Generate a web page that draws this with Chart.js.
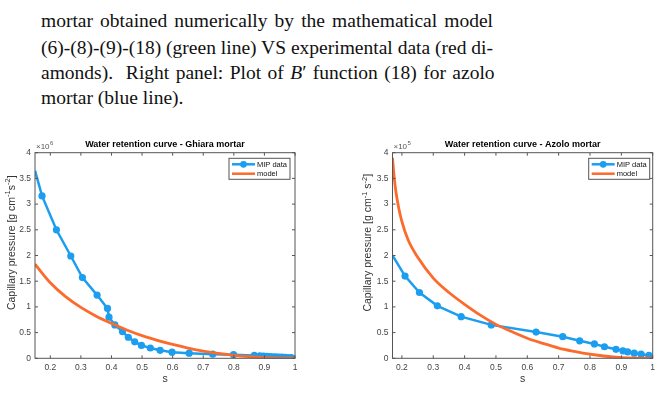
<!DOCTYPE html>
<html><head><meta charset="utf-8">
<script src="https://cdn.jsdelivr.net/npm/chart.js@4.4.1/dist/chart.umd.min.js"></script>
<style>
html,body{margin:0;padding:0;background:#fff;width:661px;height:411px;overflow:hidden;position:relative}
.cap{position:absolute;left:41px;font-family:"Liberation Serif","DejaVu Serif",serif;font-size:20px;color:#111;line-height:26px;white-space:nowrap}
canvas{position:absolute}
</style></head><body>
<div class="cap j" style="top:8px">mortar obtained numerically by the mathematical model</div>
<div class="cap j" style="top:35px">(6)-(8)-(9)-(18) (green line) VS experimental data (red di-</div>
<div class="cap j" style="top:60px">amonds). &nbsp;Right panel: Plot of <i>B</i>′ function (18) for azolo</div>
<div class="cap" style="top:85px">mortar (blue line).</div>
<canvas id="c1" width="330" height="255" style="left:0;top:135px"></canvas>
<canvas id="c2" width="331" height="255" style="left:330px;top:135px"></canvas>
<script>
// ---- data ----
const xTicks = [0.2,0.3,0.4,0.5,0.6,0.7,0.8,0.9,1];
const xTickLabels = ['0.2','0.3','0.4','0.5','0.6','0.7','0.8','0.9','1'];
const yTicks = [0,0.5,1,1.5,2,2.5,3,3.5,4];
const yTickLabels = ['0','0.5','1','1.5','2','2.5','3','3.5','4'];

// Ghiara mortar (values in units of 1e6)
const ghiaraS = [0.15,0.173,0.22,0.267,0.305,0.353,0.387,0.392,0.411,0.436,0.455,0.476,0.498,0.527,0.559,0.598,0.654,0.731,0.799,0.867,0.885,0.897,0.908,0.918,0.928,0.938,0.948,0.958,0.968,0.978,0.988];
const ghiaraP = [3.65,3.16,2.50,1.99,1.57,1.23,0.97,0.80,0.65,0.52,0.41,0.32,0.25,0.20,0.155,0.12,0.10,0.08,0.07,0.055,0.05,0.045,0.04,0.035,0.03,0.027,0.024,0.021,0.018,0.015,0.012];
const ghiaraModelS = [0.15,0.2,0.25,0.3,0.35,0.4,0.45,0.5,0.55,0.6,0.65,0.7,0.75,0.8,0.85,0.9,0.95,1.0];
const ghiaraModelP = [1.83,1.47,1.20,0.99,0.82,0.68,0.55,0.44,0.35,0.27,0.20,0.14,0.095,0.058,0.032,0.014,0.004,0];

// Azolo mortar (values in units of 1e5)
const azoloS = [0.17,0.21,0.256,0.313,0.389,0.485,0.628,0.713,0.767,0.814,0.846,0.883,0.905,0.92,0.941,0.963,0.988];
const azoloP = [2.0,1.6,1.28,1.02,0.81,0.65,0.51,0.42,0.34,0.28,0.225,0.175,0.145,0.125,0.10,0.08,0.055];
const azoloModelS = [0.17,0.175,0.18,0.19,0.2,0.22,0.25,0.3,0.35,0.4,0.45,0.5,0.55,0.6,0.65,0.7,0.75,0.8,0.85,0.9,0.95,1.0];
const azoloModelP = [3.9,3.55,3.28,2.92,2.66,2.30,1.97,1.56,1.28,1.05,0.84,0.66,0.52,0.39,0.29,0.20,0.135,0.08,0.04,0.015,0.003,0];

const BLUE = '#1c9ef0', ORANGE = '#fc6a2c';
const FONT = '"Liberation Sans", Arial, sans-serif';

// pick an installed serif font for the caption
function hasFont(f) {
  const c = document.createElement('canvas').getContext('2d');
  const t = 'mmmmmmmmmlliiWWWQQ@@';
  c.font = '40px monospace'; const a = c.measureText(t).width;
  c.font = '40px "' + f + '", monospace'; const b = c.measureText(t).width;
  return Math.abs(a - b) > 0.5;
}
const serifCandidates = ['Liberation Serif', 'DejaVu Serif', 'Noto Serif', 'Times New Roman'];
const serif = serifCandidates.find(hasFont);
const caps = document.querySelectorAll('.cap');
caps.forEach(el => { if (serif) el.style.fontFamily = '"' + serif + '", serif'; });
const first = caps[0];
let fs = 21;
first.style.fontSize = fs + 'px';
const spaces0 = (first.textContent.match(/ /g) || []).length;
while (fs > 14 && first.getBoundingClientRect().width > 452 - spaces0 * 1.5) { fs -= 0.5; first.style.fontSize = fs + 'px'; }
caps.forEach(el => { el.style.fontSize = fs + 'px'; });
document.querySelectorAll('.cap.j').forEach(el => {
  const w = el.getBoundingClientRect().width;
  const spaces = (el.textContent.match(/ /g) || []).length;
  el.style.wordSpacing = ((452 - w) / spaces) + 'px';
});

// draw text made of normal and superscript parts, centred at (0,0)
function drawRich(ctx, parts, size) {
  const fontFor = sup => (sup ? size * 0.72 : size) + 'px ' + FONT;
  let total = 0;
  parts.forEach(pt => { ctx.font = fontFor(pt.sup); pt.w = ctx.measureText(pt.t).width; total += pt.w; });
  let cx = -total / 2;
  ctx.textAlign = 'left'; ctx.textBaseline = 'middle';
  parts.forEach(pt => { ctx.font = fontFor(pt.sup); ctx.fillText(pt.t, cx, pt.sup ? -size * 0.38 : 0); cx += pt.w; });
}

const decor = {
  id: 'decor',
  afterDatasetsDraw(chart, args, p) {
    const {ctx, chartArea: a, scales: {x, y}} = chart;
    ctx.save();
    // axes box
    ctx.strokeStyle = '#555'; ctx.lineWidth = 1;
    ctx.strokeRect(a.left, a.top, a.right - a.left, a.bottom - a.top);
    ctx.beginPath();
    x.ticks.forEach(t => { const px = x.getPixelForValue(t.value);
      ctx.moveTo(px, a.bottom); ctx.lineTo(px, a.bottom - 3);
      ctx.moveTo(px, a.top); ctx.lineTo(px, a.top + 3); });
    y.ticks.forEach(t => { const py = y.getPixelForValue(t.value);
      ctx.moveTo(a.left, py); ctx.lineTo(a.left + 3, py);
      ctx.moveTo(a.right, py); ctx.lineTo(a.right - 3, py); });
    ctx.stroke();
    // title
    ctx.fillStyle = '#000'; ctx.textAlign = 'center'; ctx.textBaseline = 'middle';
    ctx.font = 'bold 9px ' + FONT;
    ctx.fillText(p.title, (a.left + a.right) / 2, a.top - 8);
    // exponent
    ctx.fillStyle = '#555'; ctx.textAlign = 'left';
    ctx.font = '8px ' + FONT;
    ctx.fillText('×10', a.left + 1, a.top - 6);
    const w = ctx.measureText('×10').width;
    ctx.font = '6px ' + FONT;
    ctx.fillText(p.exp, a.left + 1.5 + w, a.top - 9.5);
    // y label
    ctx.save();
    ctx.translate(p.yLabelX, p.yLabelY);
    ctx.rotate(-Math.PI / 2);
    ctx.fillStyle = '#333';
    drawRich(ctx, p.yLabel.map(q => ({...q})), 10.5);
    ctx.restore();
    // x label
    ctx.fillStyle = '#333'; ctx.textAlign = 'center'; ctx.textBaseline = 'middle'; ctx.font = '10.5px ' + FONT;
    ctx.fillText('s', (a.left + a.right) / 2, a.bottom + 20.5);
    // legend
    const bw = 61, bh = 21, bx = a.right - p.legRight - bw, by = a.top + 5.6;
    ctx.fillStyle = '#fff'; ctx.fillRect(bx, by, bw, bh);
    ctx.strokeStyle = '#555'; ctx.lineWidth = 1; ctx.strokeRect(bx, by, bw, bh);
    const ds = chart.data.datasets;
    const rows = [[ds[1], by + 6], [ds[0], by + 15.4]];
    rows.forEach(([d, ry], i) => {
      ctx.strokeStyle = d.borderColor; ctx.lineWidth = 2.5;
      ctx.beginPath(); ctx.moveTo(bx + 3, ry); ctx.lineTo(bx + 26, ry); ctx.stroke();
      if (i === 0) { ctx.fillStyle = d.borderColor; ctx.beginPath(); ctx.arc(bx + 14.5, ry, 3.4, 0, Math.PI * 2); ctx.fill(); }
      ctx.fillStyle = '#111'; ctx.textAlign = 'left'; ctx.font = '7.5px ' + FONT;
      ctx.fillText(d.label, bx + 28, ry + 0.5);
    });
    ctx.restore();
  }
};

function makeChart(id, s, pv, ms, mv, p) {
  return new Chart(document.getElementById(id), {
    type: 'line',
    data: { datasets: [
      { label: 'model', data: ms.map((v, i) => ({x: v, y: mv[i]})), borderColor: ORANGE, backgroundColor: ORANGE,
        borderWidth: 2.8, pointRadius: 0, cubicInterpolationMode: 'monotone', fill: false, order: 0 },
      { label: 'MIP data', data: s.map((v, i) => ({x: v, y: pv[i]})), borderColor: BLUE, backgroundColor: BLUE,
        borderWidth: 2.5, pointRadius: s.map((_, i) => i === 0 ? 0 : 3.6), pointBorderWidth: 0, tension: 0, fill: false, order: 1 }
    ]},
    options: {
      responsive: false, animation: false, devicePixelRatio: 1,
      layout: { padding: { left: 0, right: p.padRight, top: 17.7, bottom: 0 } },
      plugins: { legend: { display: false }, title: { display: false }, tooltip: { enabled: false }, decor: p },
      scales: {
        x: { type: 'linear', min: p.xMin, max: 1,
          afterBuildTicks: sc => { sc.ticks = xTicks.map(v => ({value: v})); },
          afterFit: sc => { sc.height = 31.7; },
          grid: { display: false, drawTicks: false }, border: { display: false },
          ticks: { padding: 4, color: '#444', autoSkip: false, maxRotation: 0, font: { family: FONT, size: 8.5 },
            callback: (v, i) => xTickLabels[i] } },
        y: { type: 'linear', min: 0, max: 4,
          afterBuildTicks: sc => { sc.ticks = yTicks.map(v => ({value: v})); },
          afterFit: sc => { sc.width = p.yW; },
          grid: { display: false, drawTicks: false }, border: { display: false },
          ticks: { padding: 4, color: '#444', autoSkip: false, font: { family: FONT, size: 8.5 },
            callback: (v, i) => yTickLabels[i] } }
      }
    },
    plugins: [decor]
  });
}

const yLabelLeft = [{t: 'Capillary pressure [g cm'}, {t: '-1', sup: true}, {t: 's'}, {t: '-2', sup: true}, {t: ']'}];
const yLabelRight = [{t: 'Capillary pressure [g cm'}, {t: '-1', sup: true}, {t: ' s'}, {t: '-2', sup: true}, {t: ']'}];

makeChart('c1', ghiaraS, ghiaraP, ghiaraModelS, ghiaraModelP,
  { title: 'Water retention curve - Ghiara mortar', exp: '6', xMin: 0.15, yW: 35, padRight: 35,
    yLabel: yLabelLeft, yLabelX: 12, yLabelY: 107.7, legRight: 5 });
makeChart('c2', azoloS, azoloP, azoloModelS, azoloModelP,
  { title: 'Water retention curve - Azolo mortar', exp: '5', xMin: 0.17, yW: 62.5, padRight: 8.3,
    yLabel: yLabelRight, yLabelX: 38.5, yLabelY: 107.7, legRight: 3 });
</script>
</body></html>
